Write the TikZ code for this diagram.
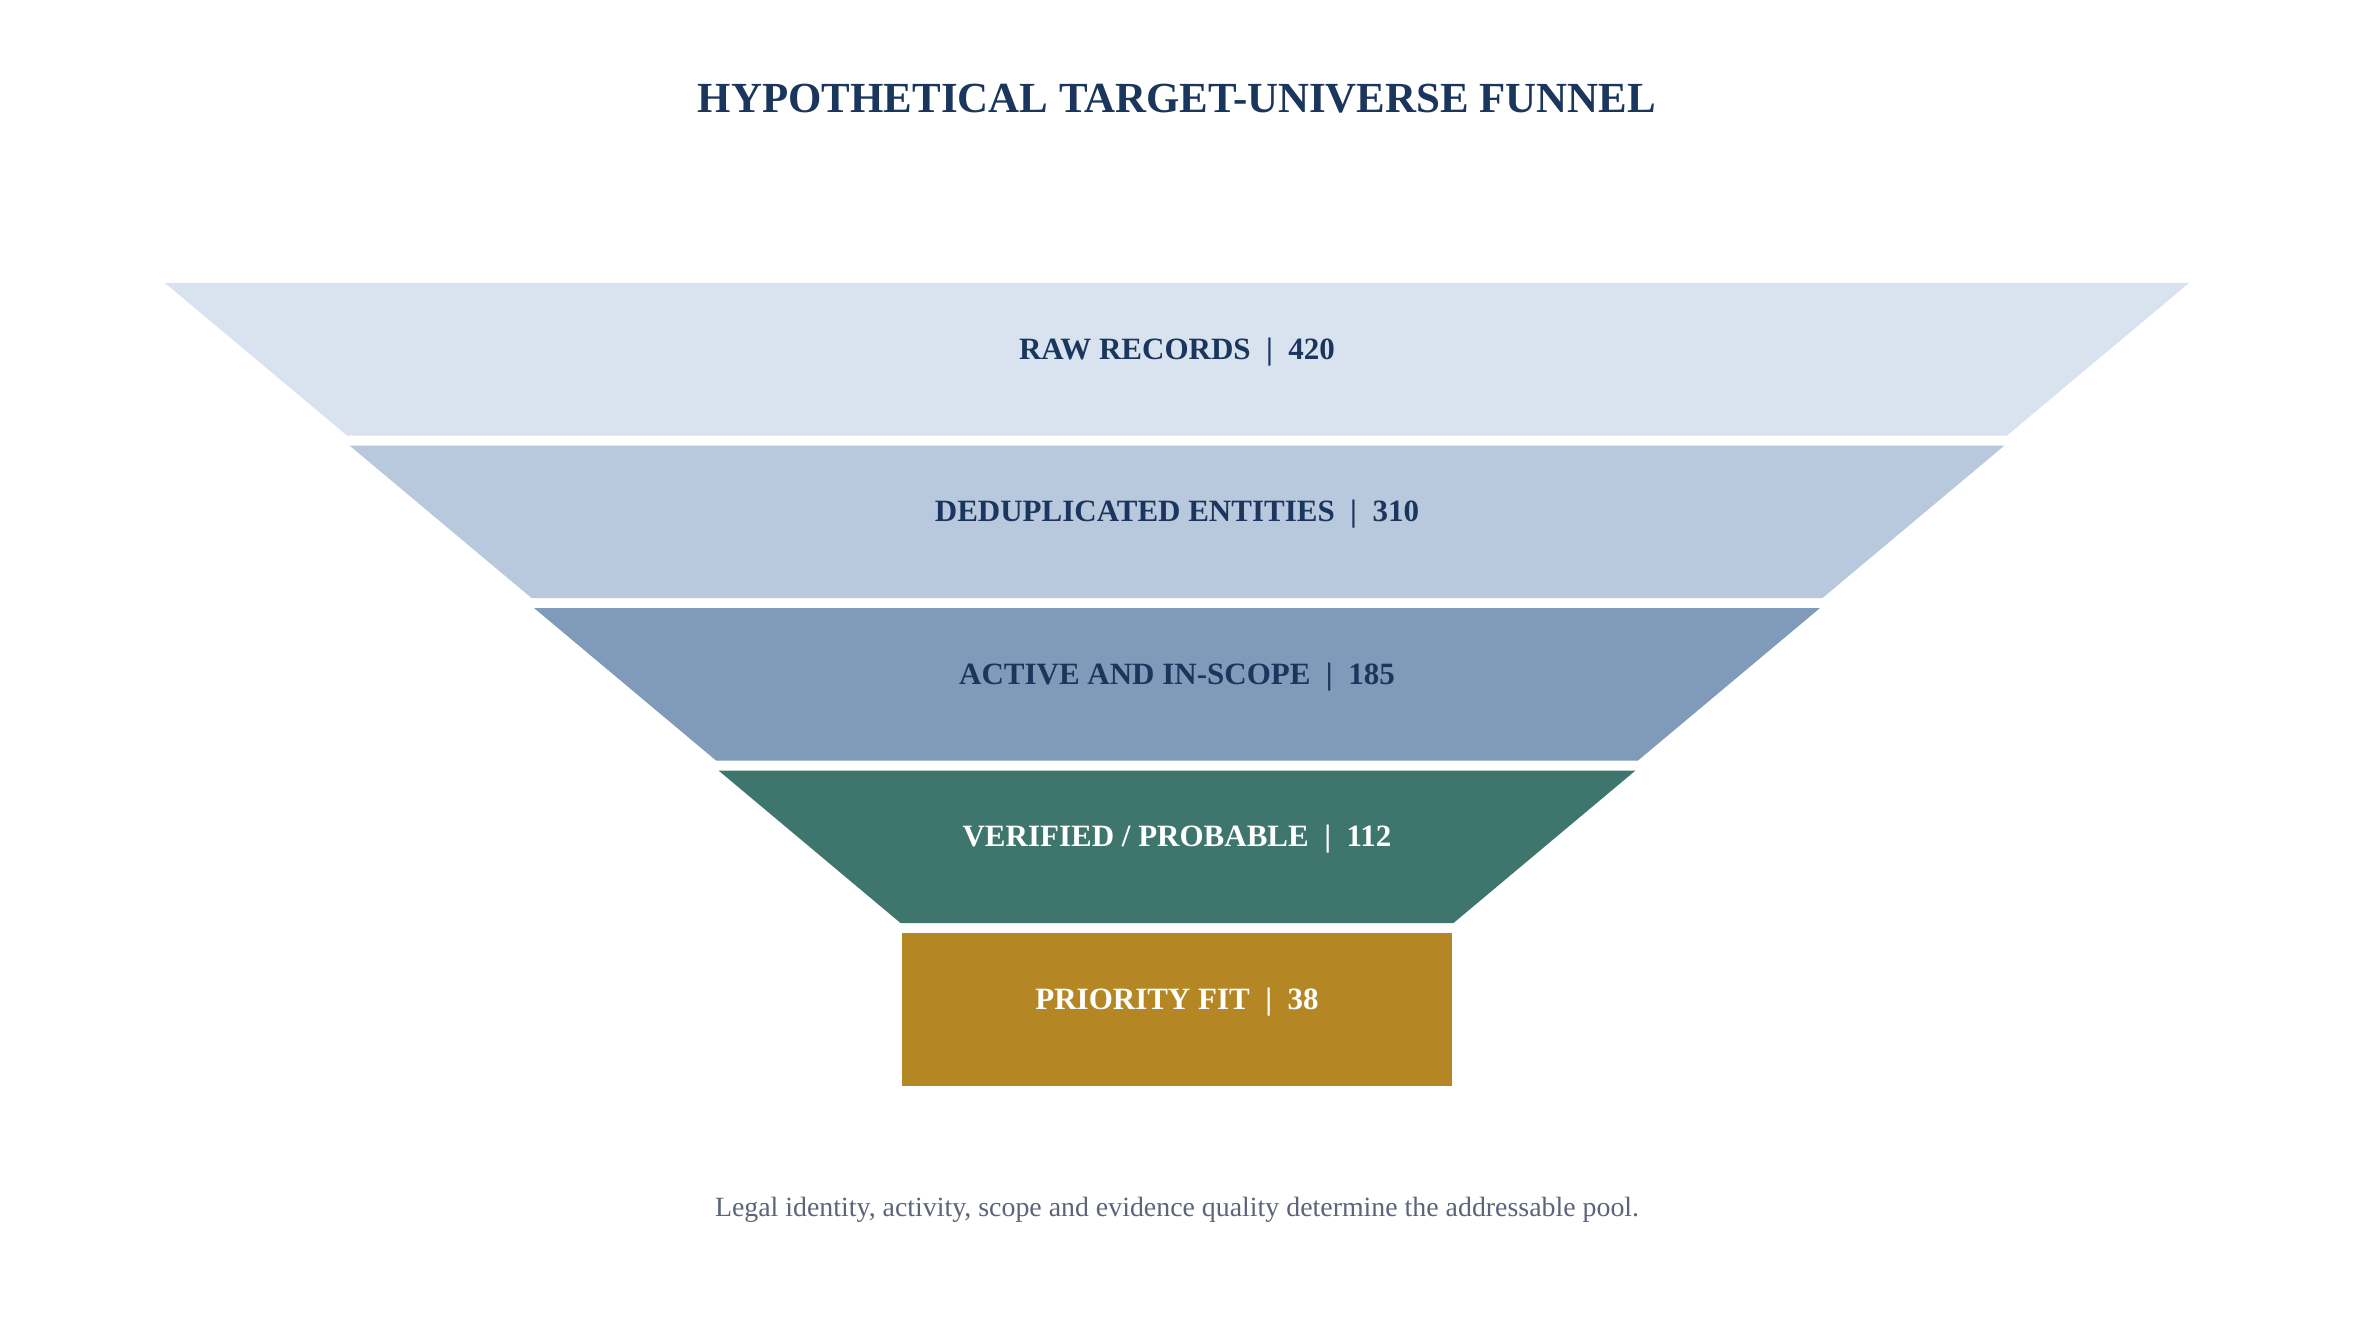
\documentclass[tikz,border=0pt]{standalone}
\usepackage{fontspec}
\setmainfont{Liberation Serif}
\definecolor{navy}{HTML}{1B365D}
\definecolor{bandone}{HTML}{D9E3EF}
\definecolor{bandtwo}{HTML}{B8C8DD}
\definecolor{bandthree}{HTML}{7F9BB9}
\definecolor{bandfour}{HTML}{3E756C}
\definecolor{bandfive}{HTML}{B58724}
\definecolor{notegrey}{HTML}{5B6479}
\tikzset{
  stage/.style={anchor=base, font=\fontsize{15.5}{18}\selectfont\bfseries, text=navy, inner sep=0pt},
  stagelight/.style={stage, text=white},
}
\begin{document}
\begin{tikzpicture}[x=0.5pt, y=-0.5pt]
	\useasboundingbox[fill=white] (0,0) rectangle (2354,1342);

	% funnel bands
	\fill[bandone] (165,283) -- (2189,283) -- (2007,435.5) -- (347,435.5) -- cycle;
	\fill[bandtwo] (349.5,445.5) -- (2004.5,445.5) -- (1822.5,598) -- (531.5,598) -- cycle;
	\fill[bandthree] (534,608) -- (1820,608) -- (1638,760.5) -- (716,760.5) -- cycle;
	\fill[bandfour] (718.5,770.5) -- (1635.5,770.5) -- (1453.5,923) -- (900.5,923) -- cycle;
	\fill[bandfive] (902,933) rectangle (1452,1085.5);

	\node (title) [anchor=base, font=\fontsize{21.45}{25}\selectfont\bfseries, text=navy] at (1177,113) {HYPOTHETICAL TARGET-UNIVERSE FUNNEL};

	\node (raw) [stage] at (1177,359.25) {RAW RECORDS\enspace|\enspace 420};
	\node (dedup) [stage] at (1177,521.75) {DEDUPLICATED ENTITIES\enspace|\enspace 310};
	\node (active) [stage] at (1177,684.25) {ACTIVE AND IN-SCOPE\enspace|\enspace 185};
	\node (verified) [stagelight] at (1177,846.75) {VERIFIED / PROBABLE\enspace|\enspace 112};
	\node (priority) [stagelight] at (1177,1009.25) {PRIORITY FIT\enspace|\enspace 38};

	\node (note) [anchor=base, font=\fontsize{13.93}{17}\selectfont, text=notegrey] at (1177,1216) {Legal identity, activity, scope and evidence quality determine the addressable pool.};
\end{tikzpicture}
\end{document}
